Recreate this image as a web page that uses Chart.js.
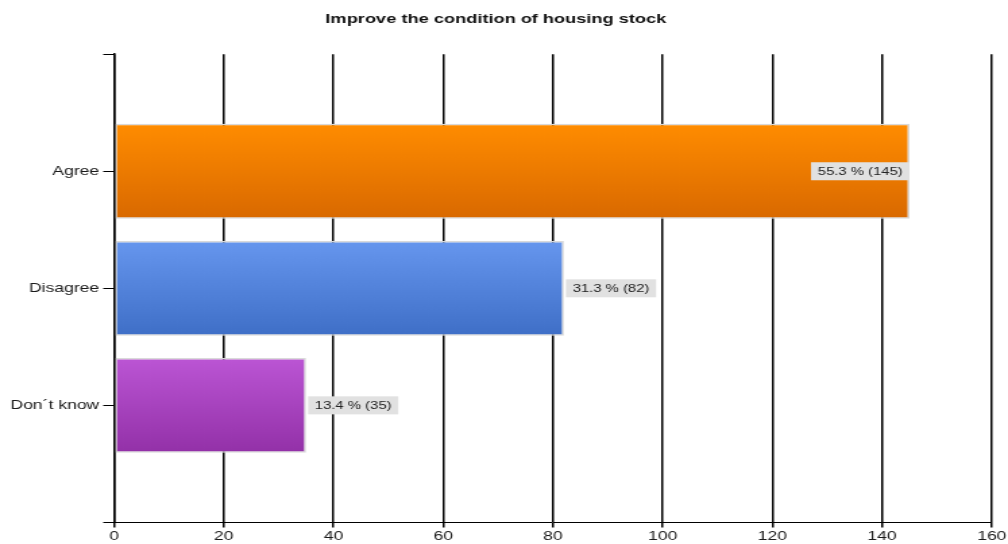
<!DOCTYPE html>
<html>
<head>
<meta charset="utf-8">
<title>Improve the condition of housing stock</title>
<script src="https://cdn.jsdelivr.net/npm/chart.js@4.4.1/dist/chart.umd.min.js"></script>
<style>
  html, body { margin: 0; padding: 0; background: #fff; overflow: hidden; }
  /* the chart is drawn narrow and stretched sideways, like the old export */
  #chart { display: block; transform: scaleX(1.3494); transform-origin: 0 0; }
</style>
</head>
<body>
<canvas id="chart" width="747" height="544"></canvas>
<script>
const TITLE = 'Improve the condition of housing stock';

// empty first/last entries give the padding rows above and below the bars
const categories = ['', 'Agree', 'Disagree', 'Don´t know', ''];
const answers = [null, 145, 82, 35, null];
const percents = [null, 55.3, 31.3, 13.4, null];

const X_MIN = 0;
const X_MAX = 160;
const X_STEP = 20;

// top / bottom colour of each bar's gradient
const barColors = [
  null,
  ['#ff8c00', '#d96900'],
  ['#6696ee', '#3f6fc7'],
  ['#bb55d4', '#9331a8'],
  null
];

const FONT = '"Liberation Sans", Arial, sans-serif';
Chart.defaults.font.family = FONT;

function barGradient(context) {
  const chart = context.chart;
  const pair = barColors[context.dataIndex];
  if (!pair) return 'transparent';
  const yScale = chart.scales.y;
  if (!chart.chartArea || !yScale) return pair[0];
  const center = yScale.getPixelForValue(context.dataIndex);
  const half = (yScale.getPixelForValue(1) - yScale.getPixelForValue(0)) * 0.4;
  const g = chart.ctx.createLinearGradient(0, center - half, 0, center + half);
  g.addColorStop(0, pair[0]);
  g.addColorStop(1, pair[1]);
  return g;
}

// "55.3 % (145)" tags at the end of every bar
const valueLabels = {
  id: 'valueLabels',
  afterDatasetsDraw(chart) {
    const {ctx, chartArea} = chart;
    const meta = chart.getDatasetMeta(0);
    ctx.save();
    ctx.font = '11px ' + FONT;
    ctx.textBaseline = 'middle';
    meta.data.forEach((bar, i) => {
      if (answers[i] == null) return;
      const text = percents[i].toFixed(1) + ' % (' + answers[i] + ')';
      const w = ctx.measureText(text).width + 10;
      const h = 18;
      let left = bar.x + 1.5;
      if (left + w > chartArea.right) left = bar.x - w;
      ctx.fillStyle = '#e1e1e1';
      ctx.fillRect(left, bar.y - h / 2, w, h);
      ctx.fillStyle = '#222';
      ctx.fillText(text, left + 5, bar.y + 0.5);
    });
    ctx.restore();
  }
};

new Chart(document.getElementById('chart'), {
  type: 'bar',
  data: {
    labels: categories,
    datasets: [{
      data: answers,
      backgroundColor: barGradient,
      borderColor: '#d9d9d9',
      borderWidth: 1.5,
      borderSkipped: false,
      categoryPercentage: 0.81,
      barPercentage: 1
    }]
  },
  options: {
    indexAxis: 'y',
    responsive: false,
    animation: false,
    layout: {padding: {top: 0, right: 12, bottom: 0, left: 0}},
    plugins: {
      legend: {display: false},
      tooltip: {enabled: false},
      title: {
        display: true,
        text: TITLE,
        color: '#111',
        font: {family: FONT, size: 13.5, weight: 'bold'},
        padding: {top: 11, bottom: 27}
      }
    },
    scales: {
      x: {
        type: 'linear',
        position: 'bottom',
        min: X_MIN,
        max: X_MAX,
        ticks: {stepSize: X_STEP, color: '#1a1a1a', font: {size: 13}, padding: 1, maxRotation: 0},
        grid: {color: '#000', lineWidth: 1.5, tickLength: 5, tickColor: '#000'},
        border: {color: '#000', width: 1},
        afterFit(scale) { scale.height = 21.6; }
      },
      y: {
        type: 'category',
        offset: false,
        ticks: {color: '#1a1a1a', font: {size: 13}, padding: 3, autoSkip: false},
        grid: {drawOnChartArea: false, offset: false, tickLength: 8, tickColor: '#000', lineWidth: 1},
        border: {color: '#000', width: 1.5, z: 1},
        afterFit(scale) { scale.width = 84.5; }
      }
    }
  },
  plugins: [valueLabels]
});
</script>
</body>
</html>
